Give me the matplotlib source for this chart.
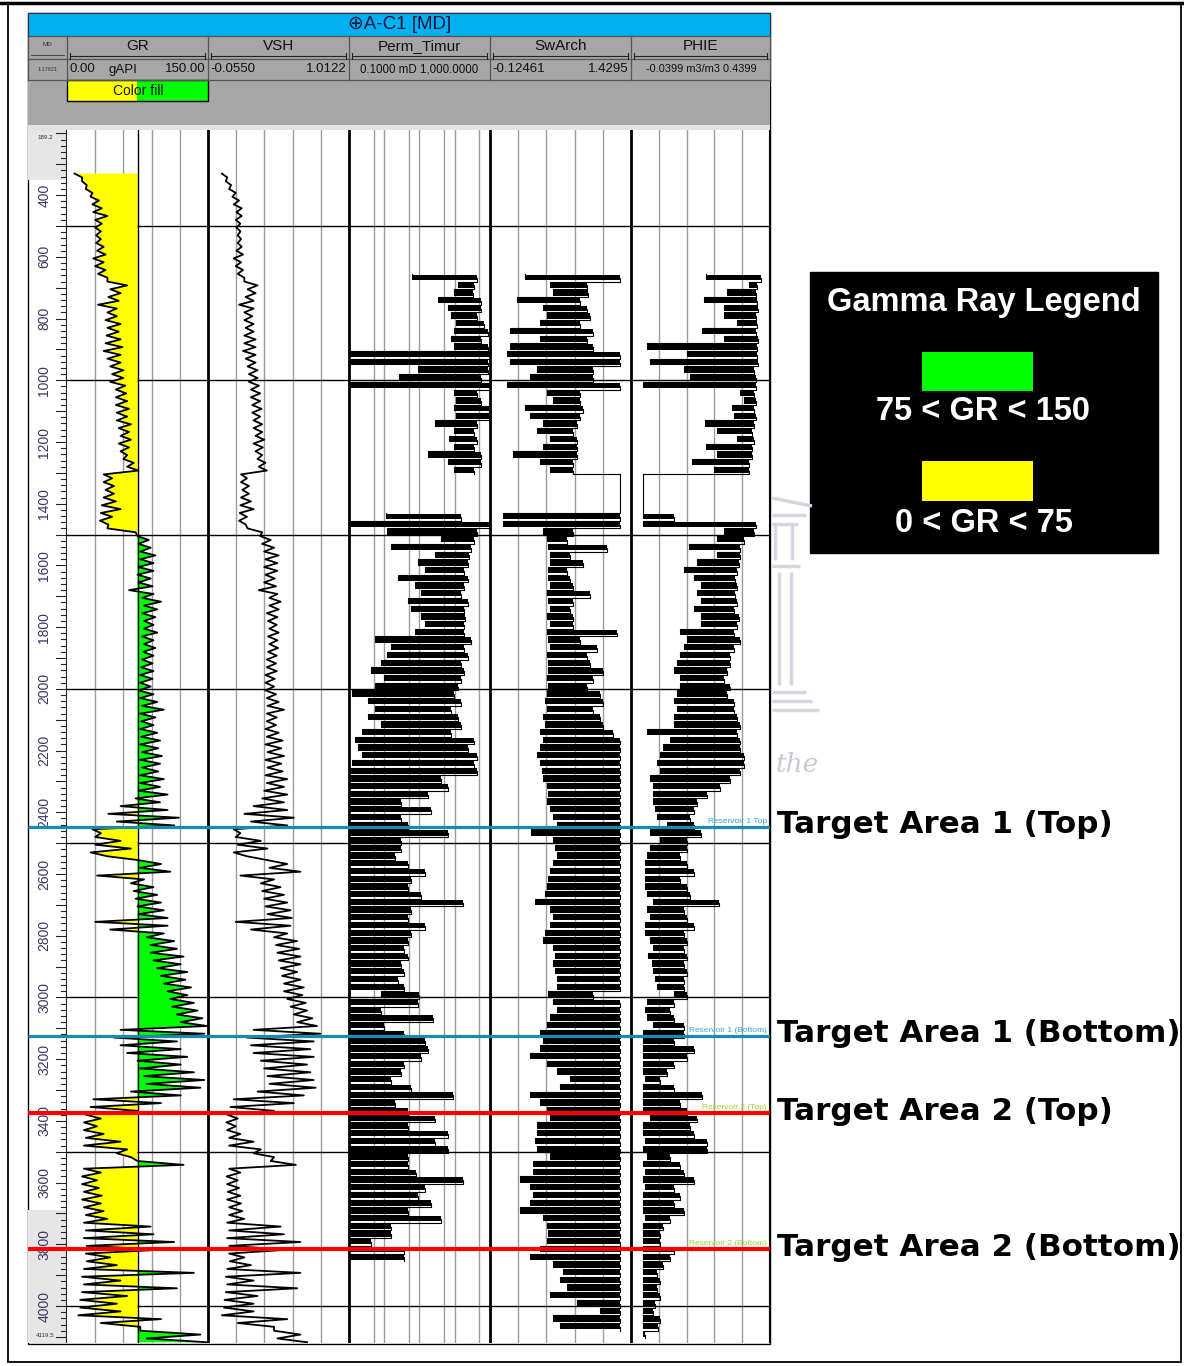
import numpy as np
import matplotlib.pyplot as plt
from matplotlib.patches import Rectangle

W, H = 1184, 1366
MD_TOP, MD_BASE = 189.2, 4119.5
STEP = 25  # each value pair = low / high excursion of the log inside a 25 m bin

# ---- GR (gAPI) and VSH (v/v), first bin at 330 m
gr_top = 330
gr_lo = [8, 16, 20, 25, 27, 28, 30, 30,
         31, 31, 32, 28, 30, 33, 43, 46,
         44, 33, 43, 41, 43, 42, 41, 39,
         43, 46, 48, 46, 52, 52, 52, 53,
         53, 55, 57, 55, 57, 60, 64, 39,
         39, 41, 39, 37, 36, 35, 43, 75,
         76, 78, 78, 76, 75, 76, 66, 80,
         82, 80, 82, 82, 80, 82, 81, 80,
         79, 78, 78, 76, 78, 80, 78, 79,
         78, 79, 78, 80, 78, 80, 78, 78,
         76, 73, 57, 44, 53, 27, 30, 30,
         25, 76, 78, 32, 68, 71, 73, 75,
         76, 30, 46, 85, 89, 89, 92, 96,
         100, 103, 107, 110, 112, 117, 121, 57,
         50, 57, 64, 75, 78, 82, 85, 68,
         28, 25, 20, 18, 18, 20, 18, 53,
         75, 18, 16, 16, 18, 16, 18, 20,
         18, 20, 18, 21, 20, 21, 18, 16,
         18, 16, 14, 14, 12, 36, 78, 85]
gr_hi = [16, 21, 27, 34, 37, 43, 37, 36,
         36, 39, 41, 39, 41, 43, 64, 57,
         55, 53, 53, 57, 55, 57, 59, 57,
         57, 60, 60, 62, 63, 64, 66, 64,
         68, 66, 68, 66, 64, 71, 76, 48,
         50, 50, 52, 57, 48, 44, 73, 87,
         89, 94, 92, 92, 89, 91, 92, 100,
         96, 94, 92, 96, 92, 94, 92, 91,
         92, 91, 89, 92, 96, 103, 94, 92,
         96, 99, 97, 101, 99, 97, 103, 99,
         107, 99, 107, 119, 114, 36, 57, 68,
         43, 100, 110, 82, 92, 96, 100, 103,
         107, 107, 103, 114, 117, 124, 121, 128,
         126, 132, 128, 135, 139, 144, 149, 146,
         117, 121, 128, 121, 135, 146, 142, 121,
         100, 75, 36, 32, 39, 57, 64, 68,
         124, 36, 32, 34, 37, 36, 39, 43,
         89, 92, 114, 100, 46, 53, 135, 57,
         117, 64, 53, 57, 100, 78, 142, 149]
vsh_lo = [.05, .08, .105, .13, .14, .16, .155, .16,
          .17, .17, .16, .14, .155, .17, .22, .245,
          .23, .18, .22, .22, .23, .22, .22, .21,
          .23, .245, .255, .255, .27, .27, .28, .28,
          .29, .29, .305, .29, .305, .32, .33, .195,
          .195, .205, .195, .19, .185, .18, .245, .34,
          .355, .37, .38, .37, .38, .37, .33, .41,
          .41, .39, .40, .41, .40, .41, .40, .39,
          .39, .38, .38, .38, .39, .395, .39, .39,
          .38, .39, .38, .395, .38, .395, .38, .39,
          .37, .355, .29, .22, .27, .14, .155, .17,
          .14, .395, .41, .19, .345, .355, .37, .38,
          .395, .155, .27, .445, .46, .47, .48, .495,
          .505, .52, .52, .545, .57, .595, .62, .29,
          .24, .27, .29, .345, .37, .395, .41, .32,
          .14, .115, .09, .085, .09, .105, .105, .29,
          .42, .105, .085, .09, .095, .09, .105, .105,
          .09, .105, .09, .105, .105, .11, .09, .08,
          .09, .08, .07, .065, .05, .17, .445, .47]
vsh_hi = [.09, .12, .155, .18, .20, .20, .19, .19,
          .195, .20, .21, .195, .21, .22, .32, .305,
          .29, .29, .28, .29, .29, .305, .305, .305,
          .305, .32, .32, .33, .34, .34, .35, .34,
          .355, .355, .37, .36, .355, .38, .39, .24,
          .255, .255, .27, .29, .24, .23, .355, .42,
          .445, .48, .47, .47, .45, .46, .47, .495,
          .48, .47, .465, .48, .47, .475, .465, .46,
          .465, .45, .445, .46, .48, .52, .465, .46,
          .48, .51, .50, .52, .50, .51, .545, .52,
          .545, .52, .545, .595, .545, .19, .345, .395,
          .24, .545, .645, .445, .495, .52, .545, .57,
          .58, .57, .545, .62, .635, .645, .645, .62,
          .645, .67, .66, .685, .695, .735, .77, .795,
          .745, .72, .745, .695, .72, .745, .76, .67,
          .595, .445, .17, .155, .19, .29, .345, .445,
          .61, .19, .17, .18, .19, .195, .205, .22,
          .495, .52, .645, .545, .22, .27, .645, .29,
          .62, .32, .29, .29, .545, .445, .645, .695]

# ---- Perm_Timur (mD), SwArch, PHIE (m3/m3), first bin at 655 m
nan = np.nan
res_top = 655
perm_lo = [6, 120, 95, 33, 63, 79, 107, 95,
           79, 95, 0.1, 0.1, 9, 2.7, 0.1, 95,
           107, 95, 107, 27, 95, 70, 95, 17,
           63, 95, nan, nan, nan, nan, nan, 1.1,
           0.1, 1.2, 40, 1.6, 27, 9, 14, 2.4,
           7.3, 11, 4.8, 5.8, 11, 14, 7.3, 0.54,
           1.6, 1.2, 0.8, 0.43, 1, 0.54, 0.12, 0.35,
           0.54, 0.35, 0.8, 0.23, 0.15, 0.18, 0.23, 0.12,
           0.1, 0.1, 0.1, 0.1, 0.1, 0.1, 0.1, 0.1,
           0.1, 0.1, 0.1, 0.1, 0.1, 0.1, 0.1, 0.1,
           0.1, 0.1, 0.1, 0.1, 0.1, 0.1, 0.1, 0.1,
           0.1, 0.1, 0.1, 0.1, 0.1, 0.8, 0.1, 0.1,
           0.1, 0.1, 0.1, 0.1, 0.1, 0.1, 0.1, 0.1,
           0.1, 0.1, 0.1, 0.1, 0.1, 0.1, 0.1, 0.1,
           0.1, 0.1, 0.1, 0.1, 0.1, 0.1, 0.1, 0.1,
           0.1, 0.1, 0.1, 0.1, 0.1, 0.1, 0.1, 0.1,
           nan, nan, nan, nan, nan, nan, nan, nan,
           nan, nan, nan]
perm_hi = [430, 355, 320, 550, 550, 430, 680, 850,
           550, 850, 1000, 850, 850, 550, 1000, 430,
           550, 950, 950, 430, 355, 430, 355, 550,
           550, 355, nan, nan, nan, nan, nan, 150,
           1000, 430, 355, 290, 260, 230, 180, 230,
           180, 150, 230, 180, 200, 180, 180, 290,
           180, 230, 150, 180, 150, 120, 95, 150,
           79, 120, 150, 79, 355, 230, 430, 355,
           430, 40, 63, 17, 3, 21, 3, 4.8,
           63, 3, 3, 2, 4.8, 14, 5.8, 4.8,
           11, 170, 5.8, 4.8, 14, 5.8, 4.8, 3.7,
           4.8, 3, 3.7, 2.4, 3.7, 10, 9, 0.8,
           24, 1, 3.7, 14, 17, 11, 3.7, 3,
           1.6, 5.8, 87, 2, 4.8, 27, 4.8, 63,
           27, 63, 4.8, 4.8, 8, 170, 14, 9,
           21, 4.8, 40, 1.6, 1.6, 0.43, 3.7, 3.7,
           nan, nan, nan, nan, nan, nan, nan, nan,
           nan, nan, nan]
sw_lo = [.26, .54, .57, .17, .46, .50, .43, .10,
         .43, .10, .06, .10, .39, .32, .06, .50,
         .57, .26, .32, .46, .39, .54, .46, .13,
         .43, .54, 1.31, 1.31, 1.31, 1.31, 1.31, .02,
         .02, .46, .50, .52, .54, .54, .52, .52,
         .54, .50, .52, .54, .50, .54, .50, .52,
         .54, .50, .52, .52, .50, .52, .50, .48,
         .50, .46, .48, .43, .46, .43, .39, .43,
         .45, .46, .50, .52, .50, .54, .57, .61,
         .33, .57, .59, .61, .57, .54, .52, .50,
         .48, .37, .54, .57, .54, .48, .46, .57,
         .59, .57, .59, .61, .61, .52, .57, .61,
         .54, .50, .43, .46, .43, .32, .50, .61,
         .76, .65, .32, .43, .50, .54, .39, .39,
         .37, .39, .54, .35, .35, .21, .32, .35,
         .32, .21, .46, .50, .52, .50, .43, .32,
         .57, .68, .65, .72, .54, .83, 1.09, .57,
         .65, nan, nan]
sw_hi = [1.31, .94, .96, .87, .94, .98, .87, 1.01,
         .94, 1.01, 1.31, 1.31, 1.01, 1.01, 1.31, .87,
         .87, .90, .87, .83, .79, .83, .83, .83,
         .79, .79, 1.31, 1.31, 1.31, 1.31, 1.31, 1.31,
         1.31, .79, .72, 1.16, .76, .90, .72, .76,
         .79, .98, .79, .76, .79, .79, 1.27, .87,
         1.05, .94, .98, 1.12, 1.01, .94, 1.09, 1.12,
         1.01, 1.09, 1.12, 1.23, 1.31, 1.31, 1.31, 1.31,
         1.31, 1.31, 1.31, 1.31, 1.31, 1.31, 1.31, 1.31,
         1.31, 1.31, 1.31, 1.31, 1.31, 1.31, 1.31, 1.31,
         1.31, 1.31, 1.31, 1.31, 1.31, 1.31, 1.31, 1.31,
         1.31, 1.31, 1.31, 1.31, 1.31, 1.01, 1.31, 1.31,
         1.31, 1.31, 1.31, 1.31, 1.31, 1.31, 1.31, 1.31,
         1.31, 1.31, 1.31, 1.31, 1.31, 1.31, 1.31, 1.31,
         1.31, 1.31, 1.31, 1.31, 1.31, 1.31, 1.31, 1.31,
         1.31, 1.31, 1.31, 1.31, 1.31, 1.31, 1.31, 1.31,
         1.31, 1.31, 1.31, 1.31, 1.31, 1.31, 1.31, 1.31,
         1.31, nan, nan]
phie_lo = [.22, .367, .292, .211, .28, .28, .327, .205,
           .28, .014, .153, .026, .142, .165, .003, .338,
           .35, .31, .315, .217, .257, .327, .22, .257,
           .17, .245, .003, .003, .003, .003, .003, .003,
           .003, .28, .257, .159, .257, .188, .142, .176,
           .2, .188, .2, .176, .2, .2, .13, .153,
           .142, .13, .118, .107, .13, .13, .118, .107,
           .118, .107, .107, .014, .095, .072, .06, .049,
           .06, .026, .037, .037, .037, .043, .049, .084,
           .026, .06, .026, .014, .009, .009, .009, .009,
           .014, .037, .014, .026, .009, .009, .026, .037,
           .02, .032, .037, .043, .049, .107, .014, .009,
           .014, .037, .003, .003, .003, .003, .003, .003,
           .009, .003, .003, .003, .003, .026, .003, .003,
           .009, .003, .014, .003, .009, .003, .009, .003,
           .003, .003, .009, .003, .003, .003, .003, .003,
           .003, .003, .003, .003, .003, .003, .003, .003,
           .003, .003, nan]
phie_hi = [.41, .396, .39, .396, .40, .39, .396, .39,
           .40, .396, .396, .40, .384, .39, .39, .384,
           .39, .384, .39, .384, .378, .384, .378, .378,
           .367, .367, .003, .003, .003, .003, .003, .107,
           .39, .384, .35, .338, .338, .332, .327, .32,
           .327, .32, .327, .315, .332, .327, .315, .338,
           .315, .303, .303, .292, .28, .303, .292, .315,
           .315, .327, .338, .327, .338, .338, .35, .35,
           .338, .303, .269, .222, .188, .176, .165, .176,
           .2, .153, .153, .13, .153, .176, .13, .153,
           .165, .263, .142, .153, .176, .142, .153, .142,
           .153, .142, .153, .142, .142, .153, .107, .095,
           .107, .142, .142, .107, .176, .153, .107, .084,
           .06, .107, .205, .13, .153, .188, .165, .176,
           .222, .222, .095, .13, .142, .176, .107, .13,
           .107, .142, .095, .072, .06, .06, .107, .095,
           .072, .049, .06, .049, .06, .043, .037, .06,
           .055, .009, nan]

# ---- well tops
top_names = ["Reservoir 1 Top", "Reservoir 1 (Bottom)", "Reservoir 2 (Top)", "Reservoir 2 (Bottom)"]
top_md = [2447, 3124, 3374, 3815]
top_labels = ["Target Area 1 (Top)", "Target Area 1 (Bottom)", "Target Area 2 (Top)", "Target Area 2 (Bottom)"]
top_colors = ['#1b8ab0', '#1b8ab0', '#ff0000', '#ff0000']
top_text_colors = ['#3aa6d6', '#3aa6d6', '#a6d22e', '#a6d22e']

track_names = ["GR", "VSH", "Perm_Timur", "SwArch", "PHIE"]
track_edges = [67, 208, 349, 490, 631, 770]
GR_CUT = 75


def zigzag(top, lo, hi):
    lo = np.asarray(lo, float)
    hi = np.asarray(hi, float)
    d = top + STEP * np.arange(len(lo))
    y = np.column_stack([d, d + STEP / 2]).ravel()
    x = np.column_stack([lo, hi]).ravel()
    return x, y


def dense_log(ax, top, lo, hi, lw=0.8):
    # one solid bar per bin between the low and high excursion + thin stepped trace
    lo = np.asarray(lo, float)
    hi = np.asarray(hi, float)
    d = top + STEP * np.arange(len(lo))
    ok = ~np.isnan(lo)
    ax.barh(d[ok] + STEP * 0.12, hi[ok] - lo[ok], left=lo[ok], height=STEP * 0.7,
            align='edge', color='black', lw=0, zorder=4)
    x, y = zigzag(top, lo, hi)
    ax.plot(x, y, color='black', lw=lw, drawstyle='steps-pre', zorder=4)


fig = plt.figure(figsize=(W / 100, H / 100), dpi=100)


def px_axes(x0, y0, x1, y1):
    return fig.add_axes([x0 / W, 1 - y1 / H, (x1 - x0) / W, (y1 - y0) / H])


HF = ['Liberation Sans', 'DejaVu Sans']

# background layer in pixel units
bg = px_axes(0, 0, W, H)
bg.set_xlim(0, W)
bg.set_ylim(H, 0)
bg.axis('off')

bg.add_patch(Rectangle((8, 4), 1173, 1358, fill=False, ec='black', lw=1.3))
bg.plot([0, W], [3, 3], color='black', lw=2.5)
bg.add_patch(Rectangle((28, 13), 742, 1331, fc='white', ec='black', lw=1))
bg.add_patch(Rectangle((28, 13), 742, 23, fc='#00b0f0', ec='#303030', lw=0.8))
bg.add_patch(Rectangle((28, 36), 742, 89, fc='#a6a6a6', ec='none'))
bg.add_patch(Rectangle((28, 125), 742, 5, fc='#e2e2e2', ec='none'))
bg.text(400, 24.5, '⊕A-C1 [MD]', ha='center', va='center', fontsize=13.5, color='#151540', family=HF)

for yy in (36, 59, 80):
    bg.plot([28, 770], [yy, yy], color='#555555', lw=0.9)
for xx in [28] + track_edges:
    bg.plot([xx, xx], [36, 80], color='#555555', lw=0.9)

bg.text(47.5, 45, 'MD', ha='center', va='center', fontsize=4.5, color='#333333', family=HF)
bg.plot([31, 64], [55, 55], color='#333333', lw=0.6)
bg.text(47.5, 69.5, '1:17621', ha='center', va='center', fontsize=4, color='#333333', family=HF)

for name, x0, x1 in zip(track_names, track_edges[:-1], track_edges[1:]):
    bg.text((x0 + x1) / 2, 46.5, name, ha='center', va='center', fontsize=11, color='#111111', family=HF)
    bg.plot([x0 + 3, x1 - 3], [56, 56], color='#222222', lw=0.8)
    bg.plot([x0 + 3, x0 + 3], [53, 59], color='#222222', lw=0.8)
    bg.plot([x1 - 3, x1 - 3], [53, 59], color='#222222', lw=0.8)

sc = dict(va='center', fontsize=9.5, color='#111111', family=HF)
bg.text(69, 69.5, '0.00', ha='left', **sc)
bg.text(123, 69.5, 'gAPI', ha='center', **sc)
bg.text(206, 69.5, '150.00', ha='right', **sc)
bg.text(210, 69.5, '-0.0550', ha='left', **sc)
bg.text(347, 69.5, '1.0122', ha='right', **sc)
bg.text(419.5, 69.5, '0.1000 mD 1,000.0000', ha='center', fontsize=8.3, va='center', color='#111111', family=HF)
bg.text(492, 69.5, '-0.12461', ha='left', **sc)
bg.text(629, 69.5, '1.4295', ha='right', **sc)
bg.text(701, 69.5, '-0.0399 m3/m3 0.4399', ha='center', fontsize=7.9, va='center', color='#111111', family=HF)

bg.add_patch(Rectangle((67, 80), 70, 21, fc='#ffff00', ec='none'))
bg.add_patch(Rectangle((137, 80), 71, 21, fc='#00ff00', ec='none'))
bg.add_patch(Rectangle((67, 80), 141, 21, fill=False, ec='black', lw=1))
bg.text(138, 91, 'Color fill', ha='center', va='center', fontsize=10, color='#111111', family=HF)

# faint watermark (pillar + "the") in the right margin
wm = dict(color='#d6d6e2', lw=2.5, solid_capstyle='butt')
bg.plot([772, 812], [498, 506], **wm)
bg.plot([772, 806], [515, 515], **wm)
bg.plot([772, 798], [524, 524], **wm)
bg.plot([775, 775], [524, 560], **wm)
bg.plot([792, 792], [524, 560], **wm)
bg.plot([772, 800], [566, 566], **wm)
bg.plot([779, 779], [572, 685], **wm)
bg.plot([791, 791], [572, 685], **wm)
bg.plot([772, 806], [692, 692], **wm)
bg.plot([772, 812], [701, 701], **wm)
bg.plot([772, 819], [710, 710], **wm)
bg.text(797, 765, 'the', ha='center', va='center', fontsize=19, style='italic',
        family='DejaVu Serif', color='#c8c8d6')

# legend box
bg.add_patch(Rectangle((810, 272), 348, 281, fc='black', ec='black'))
lg = dict(ha='center', va='center', color='white', fontweight='bold', family=HF)
bg.text(984, 302, 'Gamma Ray Legend', fontsize=23.5, **lg)
bg.add_patch(Rectangle((922, 352), 111, 39, fc='#00ff00', ec='none'))
bg.text(983, 411, '75 < GR < 150', fontsize=23.5, **lg)
bg.add_patch(Rectangle((922, 461), 111, 40, fc='#ffff00', ec='none'))
bg.text(984, 524, '0 < GR < 75', fontsize=23.5, **lg)

DATA_Y0, DATA_Y1 = 130.1, 1342.9

# depth track
dax = px_axes(28, DATA_Y0, 67, DATA_Y1)
dax.set_xlim(0, 1)
dax.set_ylim(MD_BASE, MD_TOP)
dax.axis('off')
dax.axhspan(MD_TOP, 350, color='#e6e6e6', lw=0)
dax.axhspan(3690, MD_BASE, color='#e6e6e6', lw=0)
for d in range(200, 4120, 20):
    dax.plot([0.72 if d % 100 == 0 else 0.85, 0.98], [d, d], color='#222222', lw=0.8)
dax.plot([0.98, 0.98], [MD_TOP, MD_BASE], color='#222222', lw=0.8)
for d in range(400, 4001, 200):
    dax.text(0.42, d, str(d), rotation=90, ha='center', va='center', fontsize=10,
             color='#3b3562', family=HF)
dax.text(0.45, 212, '189.2', ha='center', va='center', fontsize=4.5, color='#333333', family=HF)
dax.text(0.45, 4096, '4119.5', ha='center', va='center', fontsize=4.5, color='#333333', family=HF)


def track(x0, x1, lo, hi, grid, log=False):
    ax = px_axes(x0, DATA_Y0, x1, DATA_Y1)
    if log:
        ax.set_xscale('log')
    ax.set_xlim(lo, hi)
    ax.set_ylim(MD_BASE, MD_TOP)
    ax.axis('off')
    for g in grid:
        ax.axvline(g, color='#9c9c9c', lw=1, zorder=1)
    for d in range(500, 4001, 500):
        ax.axhline(d, color='black', lw=1, zorder=1)
    return ax


# GR with cut-off colour fill
ax = track(67, 208, 0, 150, [30, 60, 90, 120])
x, y = zigzag(gr_top, gr_lo, gr_hi)
ax.fill_betweenx(y, x, GR_CUT, where=x <= GR_CUT, interpolate=True, color='#ffff00', lw=0, zorder=2)
ax.fill_betweenx(y, x, GR_CUT, where=x >= GR_CUT, interpolate=True, color='#00ff00', lw=0, zorder=2)
ax.axvline(GR_CUT, color='black', lw=1, zorder=3)
ax.plot(x, y, color='black', lw=1.3, zorder=4)

# VSH
ax = track(208, 349, -0.0550, 1.0122, np.linspace(-0.0550, 1.0122, 6)[1:-1])
x, y = zigzag(gr_top, vsh_lo, vsh_hi)
ax.plot(x, y, color='black', lw=1.3, zorder=4)

# Perm, Sw, PHIE drawn as dense logs
ax = track(349, 490, 0.1, 1000, [0.5, 1, 5, 10, 50, 100, 500], log=True)
dense_log(ax, res_top, perm_lo, perm_hi)

ax = track(490, 631, -0.12461, 1.4295, np.linspace(-0.12461, 1.4295, 6)[1:-1])
dense_log(ax, res_top, sw_lo, sw_hi)

ax = track(631, 770, -0.0399, 0.4399, np.linspace(-0.0399, 0.4399, 6)[1:-1])
dense_log(ax, res_top, phie_lo, phie_hi)

# track separators and tops, on top of everything
mk = px_axes(28, DATA_Y0, 770, DATA_Y1)
mk.set_xlim(28, 770)
mk.set_ylim(MD_BASE, MD_TOP)
mk.axis('off')
for xx in track_edges[1:-1]:
    mk.plot([xx, xx], [MD_TOP, MD_BASE], color='black', lw=2)
mk.plot([770, 770], [MD_TOP, MD_BASE], color='black', lw=1.5)
for name, md, lab, c, tc in zip(top_names, top_md, top_labels, top_colors, top_text_colors):
    mk.plot([28, 770], [md, md], color=c, lw=2.3 if c != '#ff0000' else 3, solid_capstyle='butt')
    mk.text(767, md - 5, name, ha='right', va='bottom', fontsize=6, color=tc, family=HF)
    mk.text(777, md - 6, lab, ha='left', va='center', fontsize=22.3, fontweight='bold',
            family='DejaVu Sans', color='black', clip_on=False)

fig.savefig('out.png', dpi=100)
